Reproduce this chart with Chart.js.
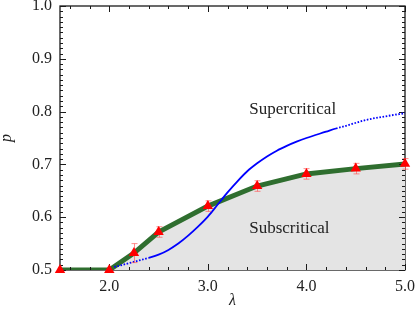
<!DOCTYPE html>
<html><head><meta charset="utf-8">
<script src="https://cdn.jsdelivr.net/npm/chart.js@4.4.0/dist/chart.umd.min.js"></script>
<style>html,body{margin:0;padding:0;background:#fff}#wrap{width:415px;height:314px}</style>
</head><body><div id="wrap"><canvas id="c" width="415" height="314"></canvas></div>
<script>
// ---- data ----
const lambdaPts = [1.5, 2.0, 2.25, 2.5, 3.0, 3.5, 4.0, 4.5, 5.0];
const pSim      = [0.5, 0.5, 0.532, 0.572, 0.621, 0.659, 0.682, 0.692, 0.701];
const pErr      = [0, 0, 0.018, 0.01, 0.01, 0.01, 0.01, 0.01, 0.01];
const lambdaTheory = [2.05, 2.1, 2.2, 2.3, 2.4, 2.5, 2.6, 2.7, 2.8, 2.9, 3.0, 3.1, 3.2, 3.3, 3.4, 3.5, 3.6, 3.7, 3.8, 3.9, 4.0, 4.2, 4.3, 4.4, 4.6, 4.8, 5.0];
const pTheory      = [0.506, 0.508, 0.513, 0.518, 0.523, 0.529, 0.538, 0.550, 0.565, 0.582, 0.601, 0.624, 0.647, 0.668, 0.687, 0.702, 0.715, 0.726, 0.735, 0.743, 0.750, 0.762, 0.768, 0.773, 0.784, 0.791, 0.797];
const stableFrom = 2.35, stableTo = 4.3;   // solid (stable) part of theory curve
const xTickValues = [2.0, 3.0, 4.0, 5.0];
const yTickValues = [0.5, 0.6, 0.7, 0.8, 0.9, 1.0];
const xMinorStep = 0.2, yMinorStep = 0.01;
const labelSuper = "Supercritical", labelSub = "Subscritical";
const labelSuperPos = [3.42, 0.803], labelSubPos = [3.42, 0.578];
const xTitle = "λ", yTitle = "p";

const FONT = "'Liberation Serif', 'DejaVu Serif', serif";

const frameTicks = {
  id: 'frameTicks',
  beforeDatasetsDraw(chart) {
    const {ctx, chartArea: a} = chart;
    ctx.save();
    ctx.strokeStyle = '#1a1a1a';
    ctx.lineWidth = 1.3;
    ctx.strokeRect(a.left, a.top, a.right - a.left, a.bottom - a.top);
    ctx.restore();
  },
  afterDatasetDraw(chart, args) {
    if (args.index !== 0) return;
    const {ctx, chartArea: a, scales: {x, y}} = chart;
    ctx.save();
    ctx.strokeStyle = '#1a1a1a';
    ctx.lineWidth = 1;
    ctx.beginPath();
    const nX = Math.round((x.max - x.min) / xMinorStep);
    for (let i = 0; i <= nX; i++) {
      const v = Math.round((Math.ceil(x.min / xMinorStep) * xMinorStep + i * xMinorStep) * 100) / 100;
      if (v > x.max + 1e-9) break;
      const major = xTickValues.some(t => Math.abs(t - v) < 1e-6);
      const L = major ? 6 : 3;
      const px = Math.round(x.getPixelForValue(v)) + 0.5;
      ctx.moveTo(px, a.bottom); ctx.lineTo(px, a.bottom - L);
      ctx.moveTo(px, a.top); ctx.lineTo(px, a.top + L);
    }
    const nY = Math.round((y.max - y.min) / yMinorStep);
    for (let i = 0; i <= nY; i++) {
      const v = y.min + i * yMinorStep;
      const major = yTickValues.some(t => Math.abs(t - v) < 1e-6);
      const L = major ? 6 : 3;
      const py = Math.round(y.getPixelForValue(v)) + 0.5;
      ctx.moveTo(a.left, py); ctx.lineTo(a.left + L, py);
      ctx.moveTo(a.right, py); ctx.lineTo(a.right - L, py);
    }
    ctx.stroke();
    ctx.restore();
  },
  beforeDatasetDraw(chart, args) {
    if (args.index !== 2) return;
    const {ctx, scales: {x, y}} = chart;
    ctx.save();
    ctx.strokeStyle = 'rgba(255,80,80,0.65)';
    ctx.lineWidth = 1;
    ctx.beginPath();
    lambdaPts.forEach((l, i) => {
      if (!pErr[i]) return;
      const px = Math.round(x.getPixelForValue(l)) + 0.5;
      const y1 = y.getPixelForValue(pSim[i] + pErr[i]);
      const y2 = y.getPixelForValue(pSim[i] - pErr[i]);
      ctx.moveTo(px, y1); ctx.lineTo(px, y2);
      ctx.moveTo(px - 3, y1); ctx.lineTo(px + 3, y1);
      ctx.moveTo(px - 3, y2); ctx.lineTo(px + 3, y2);
    });
    ctx.stroke();
    ctx.restore();
  },
  afterDraw(chart) {
    const {ctx, chartArea: a, scales: {x, y}} = chart;
    ctx.save();
    ctx.fillStyle = '#222';
    ctx.font = "17px " + FONT;
    ctx.textBaseline = 'middle';
    ctx.textAlign = 'left';
    ctx.fillText(labelSuper, x.getPixelForValue(labelSuperPos[0]), y.getPixelForValue(labelSuperPos[1]));
    ctx.fillText(labelSub, x.getPixelForValue(labelSubPos[0]), y.getPixelForValue(labelSubPos[1]));
    ctx.font = "italic 16px " + FONT;
    ctx.textAlign = 'center';
    ctx.fillText(xTitle, (a.left + a.right) / 2, 301);
    ctx.translate(7, (a.top + a.bottom) / 2);
    ctx.rotate(-Math.PI / 2);
    ctx.fillText(yTitle, 0, 0);
    ctx.restore();
  }
};

function zeroPad(s) { s.paddingTop = 0; s.paddingBottom = 0; s.paddingLeft = 0; s.paddingRight = 0; }

new Chart(document.getElementById('c'), {
  type: 'line',
  data: {
    datasets: [
      {
        data: lambdaPts.map((l, i) => ({x: l, y: pSim[i]})),
        borderColor: '#2f6e2f',
        borderWidth: 5,
        backgroundColor: '#e4e4e4',
        fill: 'start',
        pointRadius: 0,
        tension: 0,
        order: 3
      },
      {
        data: lambdaTheory.map((l, i) => ({x: l, y: pTheory[i]})),
        borderColor: '#0000ff',
        borderWidth: 1.8,
        fill: false,
        pointRadius: 0,
        cubicInterpolationMode: 'monotone',
        segment: {
          borderDash: c => (c.p0.parsed.x < stableFrom || c.p0.parsed.x >= stableTo) ? [1.6, 1.6] : []
        },
        order: 2
      },
      {
        type: 'scatter',
        data: lambdaPts.map((l, i) => ({x: l, y: pSim[i]})),
        pointStyle: 'triangle',
        pointRadius: 6,
        backgroundColor: '#ff0000',
        borderColor: '#ff0000',
        borderWidth: 0,
        showLine: false,
        clip: false,
        order: 1
      }
    ]
  },
  options: {
    responsive: false,
    devicePixelRatio: 1,
    animation: false,
    events: [],
    layout: {padding: {top: 6, right: 10, left: 0, bottom: 0}},
    plugins: {legend: {display: false}, tooltip: {enabled: false}},
    scales: {
      x: {
        type: 'linear', min: 1.5, max: 5.0,
        afterBuildTicks: s => { s.ticks = xTickValues.map(v => ({value: v})); },
        afterFit: s => { s.height = 44; zeroPad(s); },
        grid: {display: false, drawTicks: false},
        border: {display: false},
        ticks: {callback: v => Number(v).toFixed(1), font: {family: FONT, size: 16}, color: '#222', padding: 7, maxRotation: 0, autoSkip: false}
      },
      y: {
        type: 'linear', min: 0.5, max: 1.0,
        afterBuildTicks: s => { s.ticks = yTickValues.map(v => ({value: v})); },
        afterFit: s => { s.width = 60; zeroPad(s); },
        grid: {display: false, drawTicks: false},
        border: {display: false},
        ticks: {callback: v => Number(v).toFixed(1), font: {family: FONT, size: 16}, color: '#222', padding: 8, autoSkip: false}
      }
    }
  },
  plugins: [frameTicks]
});
</script>
</body></html>
